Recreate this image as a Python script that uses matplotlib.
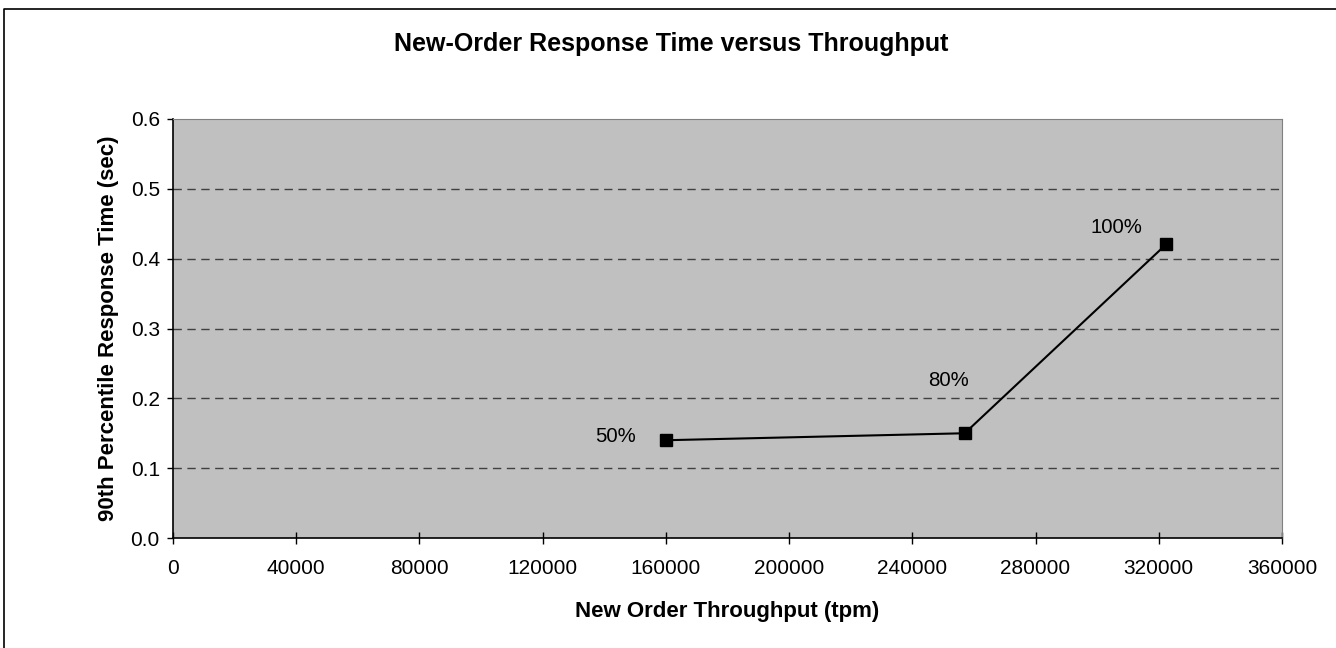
import matplotlib
matplotlib.use("Agg")
from matplotlib import pyplot as plt
from matplotlib.lines import Line2D

plt.rcParams['font.family'] = ['Liberation Sans', 'DejaVu Sans']

throughput = [160000, 257000, 322500]
response = [0.140, 0.150, 0.421]
load_labels = ['50%', '80%', '100%']
x_ticks = [0, 40000, 80000, 120000, 160000, 200000, 240000, 280000, 320000, 360000]
y_ticks = [0.0, 0.1, 0.2, 0.3, 0.4, 0.5, 0.6]

W, H = 1336, 648
fig = plt.figure(figsize=(W / 100, H / 100), dpi=100)
ax1 = fig.add_axes([173 / W, 1 - 538 / H, 1109 / W, 419 / H])
ax1.set_facecolor('#C0C0C0')

# chart border (top and left edges visible)
fig.lines.append(Line2D([4 / W, 4 / W, 1 - 0.5 / W], [0, 1 - 8.5 / H, 1 - 8.5 / H],
                        transform=fig.transFigure, color='black', linewidth=1.2))

for y in y_ticks[1:-1]:
    ax1.axhline(y, color='#404040', linestyle=(0, (6, 4)), linewidth=1.0, zorder=1)

ax1.plot(throughput, response, color='black', linewidth=1.5, marker='s',
         markersize=8, zorder=3)

offsets = [(-36.5, 3), (-12, 38), (-36, 12)]
for x, y, lab, off in zip(throughput, response, load_labels, offsets):
    ax1.annotate(lab, (x, y), xytext=off, textcoords='offset points',
                 ha='center', va='center', fontsize=14.7)

ax1.set_xlim(0, 360000)
ax1.set_ylim(0, 0.6)
ax1.set_xticks(x_ticks)
ax1.set_xticklabels([str(t) for t in x_ticks])
ax1.set_yticks(y_ticks)
ax1.set_yticklabels(['%.1f' % t for t in y_ticks])
ax1.tick_params(axis='x', direction='inout', length=8, width=1, labelsize=15, pad=11)
ax1.tick_params(axis='y', direction='out', length=4.5, width=1, labelsize=15, pad=5)

ax1.spines['left'].set_color('black')
ax1.spines['bottom'].set_color('black')
ax1.spines['left'].set_linewidth(1.2)
ax1.spines['bottom'].set_linewidth(1.2)
ax1.spines['top'].set_color('#808080')
ax1.spines['right'].set_color('#808080')

ax1.set_xlabel("New Order Throughput (tpm)", fontsize=16, fontweight='bold')
ax1.xaxis.set_label_coords(0.5, -(617 - 538) / 419)
ax1.xaxis.label.set_va('baseline')
ax1.set_ylabel("90th Percentile Response Time (sec)", fontsize=16, fontweight='bold')
ax1.yaxis.set_label_coords(-(173 - 109) / 1109, 0.5)
ax1.yaxis.label.set_va('center')

fig.text(671 / W, 1 - 51 / H, "New-Order Response Time versus Throughput",
         ha='center', va='baseline', fontsize=18, fontweight='bold')

fig.savefig('out.png', dpi=100)
